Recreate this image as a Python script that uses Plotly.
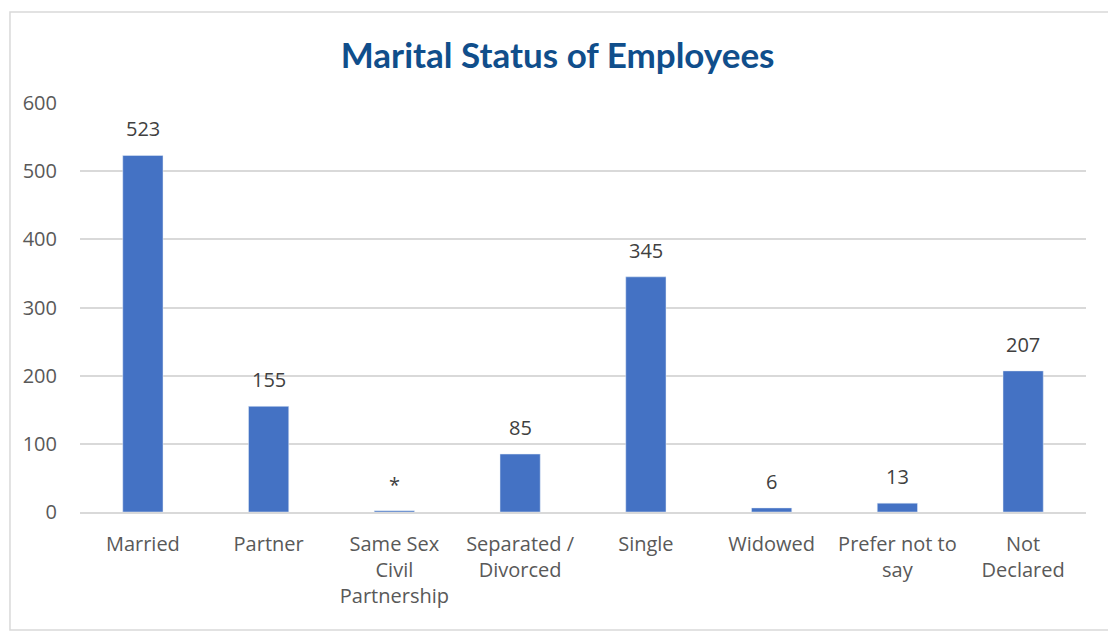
import plotly.graph_objects as go

categories = ["Married", "Partner", "Same Sex<br>Civil<br>Partnership", "Separated /<br>Divorced",
              "Single", "Widowed", "Prefer not to<br>say", "Not<br>Declared"]
employees = [523, 155, 2, 85, 345, 6, 13, 207]
bar_labels = ["523", "155", "*", "85", "345", "6", "13", "207"]
y_ticks = [0, 100, 200, 300, 400, 500, 600]

font_family = "Open Sans, sans-serif"
text_grey = "#595959"

fig = go.Figure()
fig.add_trace(go.Bar(x=categories,
                     y=employees,
                     marker_color="#4472C4",
                     hoverinfo="x+y"
                     ))

# value labels sit a little above each bar
for cat, val, lab in zip(categories, employees, bar_labels):
    fig.add_annotation(x=cat, y=val, text=lab, showarrow=False,
                       yanchor="bottom", yshift=11,
                       font=dict(size=20, color="#404040", family=font_family))

# light grey frame round the whole chart (page body adds an 8px offset)
fig.add_shape(type="rect", xref="paper", yref="paper",
              x0=-0.0696, x1=1.0258, y0=-0.2885, y1=1.2225,
              line=dict(color="#D9D9D9", width=1.5))

fig.update_layout(
    title=dict(text="<b>Marital Status of Employees</b>", x=0.4925, xanchor="center",
               y=0.925, yanchor="middle",
               font=dict(size=35, color="#104E8B", family="Lato, sans-serif")),
    width=1116, height=632,
    margin=dict(l=72, r=38, t=95, b=128),
    plot_bgcolor="white", paper_bgcolor="white",
    bargap=0.68,
    showlegend=False,
    font=dict(family=font_family, color=text_grey, size=20),
)
fig.update_xaxes(tickfont=dict(size=20, color=text_grey), showgrid=False,
                 showline=True, linecolor="#D9D9D9", linewidth=1.5, ticks="",
                 ticklabelstandoff=13)
fig.update_yaxes(range=[0, 600], tickvals=y_ticks, showgrid=True, gridcolor="#D9D9D9",
                 gridwidth=1.5, zeroline=False, ticks="", ticklabelstandoff=22,
                 tickfont=dict(size=20, color=text_grey))

fig.write_html("out.html")
